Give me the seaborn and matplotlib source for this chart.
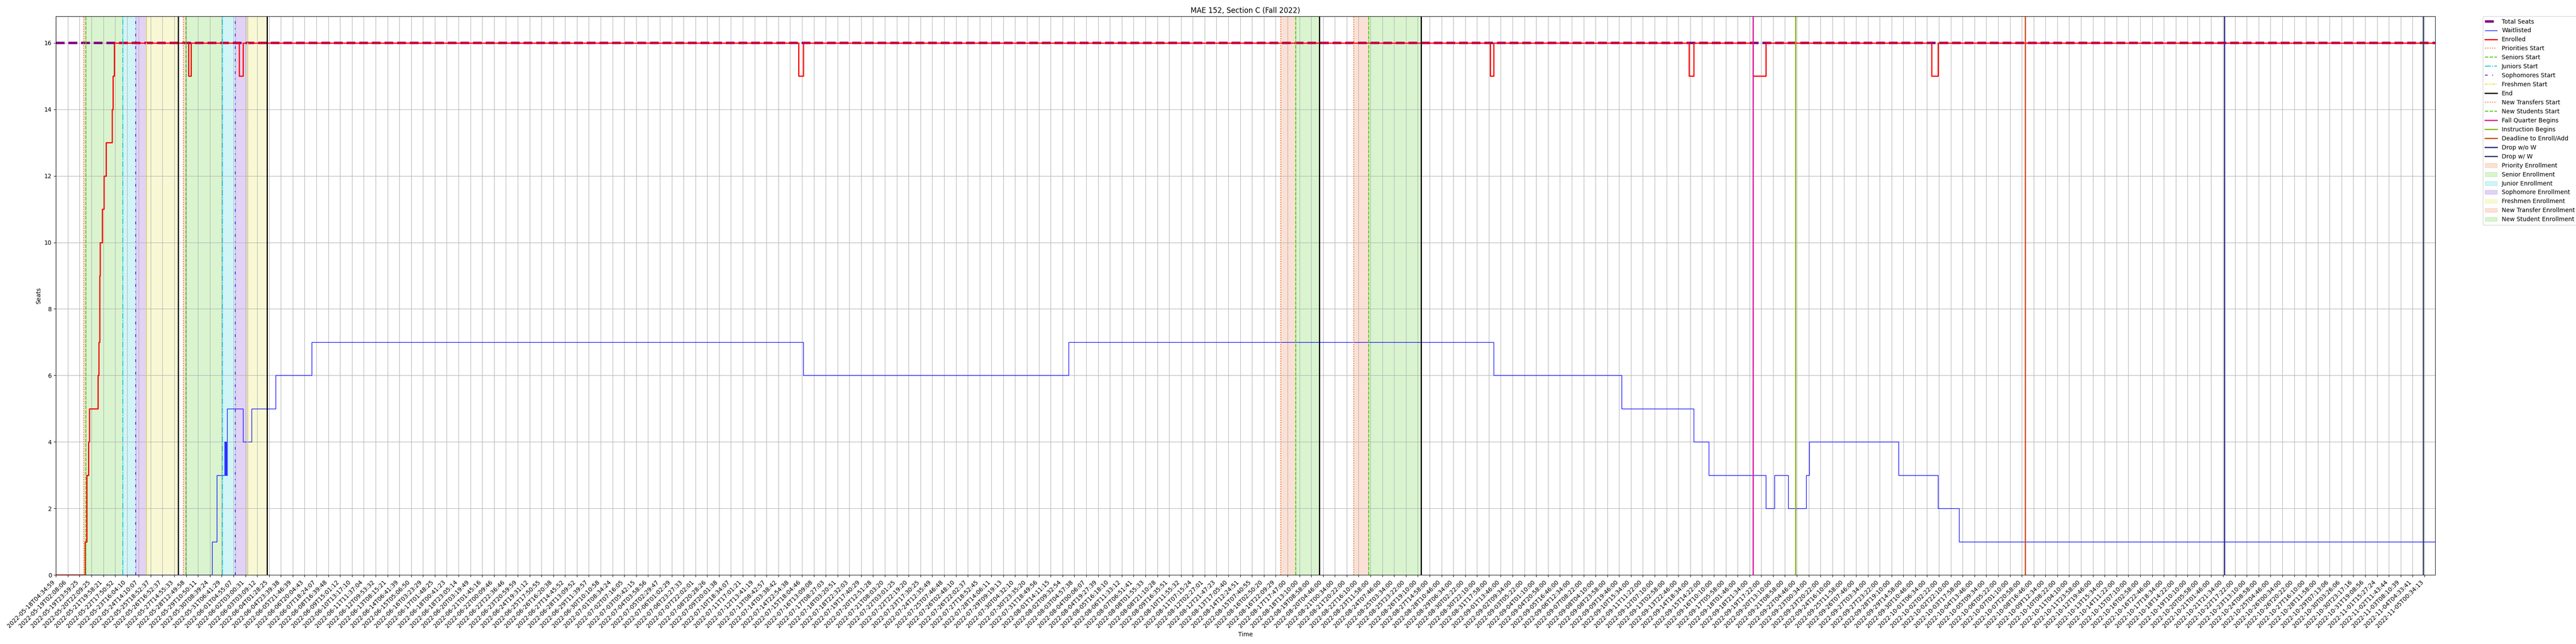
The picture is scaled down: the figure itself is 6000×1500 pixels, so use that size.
import matplotlib
matplotlib.use("Agg")
import matplotlib.pyplot as plt
import seaborn as sns

# x positions are in units of the sample index shown on the axis (one tick per unit)
tick_labels_a = [
    "2022-05-18T04:34:59", "2022-05-19T02:08:06", "2022-05-19T23:59:25", "2022-05-20T22:09:25", "2022-05-21T19:58:21",
    "2022-05-22T17:50:52", "2022-05-23T16:04:10", "2022-05-24T14:10:07", "2022-05-25T18:52:37", "2022-05-26T16:52:37",
    "2022-05-27T14:55:33", "2022-05-28T12:49:58", "2022-05-29T10:50:11", "2022-05-30T08:39:24", "2022-05-31T06:41:29",
    "2022-06-01T04:55:07", "2022-06-02T03:00:31", "2022-06-03T03:09:12", "2022-06-04T01:28:25", "2022-06-04T23:39:38",
    "2022-06-05T21:46:39", "2022-06-06T20:04:43", "2022-06-07T18:24:07", "2022-06-08T16:39:48", "2022-06-09T15:01:12",
    "2022-06-10T13:17:10", "2022-06-11T11:37:04", "2022-06-12T09:53:32", "2022-06-13T08:15:21", "2022-06-14T06:41:39",
    "2022-06-15T05:06:50", "2022-06-16T03:23:29", "2022-06-17T01:48:25", "2022-06-18T00:41:23", "2022-06-18T23:05:14",
    "2022-06-20T03:19:49", "2022-06-21T01:45:16", "2022-06-22T00:09:46", "2022-06-22T22:36:46", "2022-06-23T20:59:59",
    "2022-06-24T19:31:12", "2022-06-25T17:50:55", "2022-06-26T16:20:38", "2022-06-27T14:45:52", "2022-06-28T13:09:52",
    "2022-06-29T11:39:57", "2022-06-30T10:10:58", "2022-07-01T08:34:24", "2022-07-02T07:16:05", "2022-07-03T05:42:15",
    "2022-07-04T03:58:56", "2022-07-05T02:29:47", "2022-07-06T01:02:29", "2022-07-06T23:27:33", "2022-07-07T22:02:01",
    "2022-07-08T20:28:26", "2022-07-09T20:01:38", "2022-07-10T18:34:07", "2022-07-11T17:01:21", "2022-07-12T13:41:19",
    "2022-07-13T08:42:57", "2022-07-14T03:38:42", "2022-07-14T22:54:38", "2022-07-15T18:04:46", "2022-07-16T13:09:08",
    "2022-07-17T08:27:03", "2022-07-18T03:20:51", "2022-07-18T22:32:03", "2022-07-19T17:40:29", "2022-07-20T12:51:28",
    "2022-07-21T08:03:20", "2022-07-22T03:01:25", "2022-07-22T22:19:20", "2022-07-23T17:30:25", "2022-07-24T12:35:49",
    "2022-07-25T07:46:48", "2022-07-26T02:48:10", "2022-07-26T22:02:37", "2022-07-27T18:52:45", "2022-07-28T14:06:11",
    "2022-07-29T09:19:13", "2022-07-30T04:32:10", "2022-07-30T23:35:20", "2022-07-31T18:49:56", "2022-08-01T14:11:15",
    "2022-08-02T09:32:54", "2022-08-03T04:57:38", "2022-08-04T00:06:07", "2022-08-04T19:27:39", "2022-08-05T16:18:10",
    "2022-08-06T11:33:12", "2022-08-07T06:51:41", "2022-08-08T01:55:33", "2022-08-08T21:10:28", "2022-08-09T16:35:51",
    "2022-08-10T11:55:32", "2022-08-11T07:15:24", "2022-08-12T02:27:01", "2022-08-12T21:47:23", "2022-08-13T17:05:40",
    "2022-08-14T12:24:51", "2022-08-15T07:40:55", "2022-08-16T02:50:20", "2022-08-16T22:09:29", "2022-08-17T17:47:00",
]
# middle stretch could not be read at full size; these are estimates
tick_labels_b = [
    "2022-08-18T13:10:00", "2022-08-19T08:58:00", "2022-08-20T04:46:00", "2022-08-21T00:34:00", "2022-08-21T20:22:00",
    "2022-08-22T16:10:00", "2022-08-23T11:58:00", "2022-08-24T07:46:00", "2022-08-25T03:34:00", "2022-08-25T23:22:00",
    "2022-08-26T19:10:00", "2022-08-27T14:58:00", "2022-08-28T10:46:00", "2022-08-29T06:34:00", "2022-08-30T02:22:00",
    "2022-08-30T22:10:00", "2022-08-31T17:58:00", "2022-09-01T13:46:00", "2022-09-02T09:34:00", "2022-09-03T05:22:00",
    "2022-09-04T01:10:00", "2022-09-04T20:58:00", "2022-09-05T16:46:00", "2022-09-06T12:34:00", "2022-09-07T08:22:00",
    "2022-09-08T04:10:00", "2022-09-08T23:58:00", "2022-09-09T19:46:00", "2022-09-10T15:34:00", "2022-09-11T11:22:00",
    "2022-09-12T07:10:00", "2022-09-13T02:58:00", "2022-09-13T22:46:00", "2022-09-14T18:34:00", "2022-09-15T14:22:00",
    "2022-09-16T10:10:00", "2022-09-17T05:58:00", "2022-09-18T01:46:00", "2022-09-18T21:34:00", "2022-09-19T17:22:00",
    "2022-09-20T13:10:00", "2022-09-21T08:58:00", "2022-09-22T04:46:00", "2022-09-23T00:34:00", "2022-09-23T20:22:00",
    "2022-09-24T16:10:00", "2022-09-25T11:58:00", "2022-09-26T07:46:00", "2022-09-27T03:34:00", "2022-09-27T23:22:00",
    "2022-09-28T19:10:00", "2022-09-29T14:58:00", "2022-09-30T10:46:00", "2022-10-01T06:34:00", "2022-10-02T02:22:00",
    "2022-10-02T22:10:00", "2022-10-03T17:58:00", "2022-10-04T13:46:00", "2022-10-05T09:34:00", "2022-10-06T05:22:00",
    "2022-10-07T01:10:00", "2022-10-07T20:58:00", "2022-10-08T16:46:00", "2022-10-09T12:34:00", "2022-10-10T08:22:00",
    "2022-10-11T04:10:00", "2022-10-11T23:58:00", "2022-10-12T19:46:00", "2022-10-13T15:34:00", "2022-10-14T11:22:00",
    "2022-10-15T07:10:00", "2022-10-16T02:58:00", "2022-10-16T22:46:00", "2022-10-17T18:34:00", "2022-10-18T14:22:00",
    "2022-10-19T10:10:00", "2022-10-20T05:58:00", "2022-10-21T01:46:00", "2022-10-21T21:34:00", "2022-10-22T17:22:00",
    "2022-10-23T13:10:00", "2022-10-24T08:58:00", "2022-10-25T04:46:00", "2022-10-26T00:34:00", "2022-10-26T20:22:00",
    "2022-10-27T16:10:00", "2022-10-28T11:58:00",
]
tick_labels_c = [
    "2022-10-29T07:13:06", "2022-10-30T03:26:06", "2022-10-30T23:17:16", "2022-10-31T19:08:56", "2022-11-01T15:27:24",
    "2022-11-02T11:43:44", "2022-11-03T08:10:39", "2022-11-04T04:33:41", "2022-11-05T00:34:13",
]
tick_labels = tick_labels_a + tick_labels_b + tick_labels_c

total_seats = 16
x_end = 200.9

waitlist_x = [0, 13.2, 13.57, 14.24, 14.3, 14.36, 14.4, 14.45, 15.8, 16.53, 18.54, 21.6, 63.1, 85.5,
              121.4, 132.2, 138.3, 139.56, 144.4, 145.1, 146.26, 147.78, 148.05, 155.58, 158.93, 160.7, x_end]
waitlist_y = [0, 1, 3, 4, 3, 4, 3, 5, 4, 5, 6, 7, 6, 7,
              6, 5, 4, 3, 2, 3, 2, 3, 4, 3, 2, 1, 1]

enrolled_x = [0, 2.44, 2.62, 2.74, 2.83, 3.53, 3.6, 3.68, 3.74, 3.89, 4.05, 4.22, 4.73, 4.83, 4.94,
              11.2, 11.42, 15.49, 15.8, 62.7, 63.1, 121.1, 121.4, 137.9, 138.3, 143.3, 144.4, 158.4, 158.93, x_end]
enrolled_y = [0, 1, 3, 4, 5, 6, 7, 9, 10, 11, 12, 13, 14, 15, 16,
              15, 16, 15, 16, 15, 16, 15, 16, 15, 16, 15, 16, 15, 16, 16]

priority_starts = [2.36, 10.75]
senior_starts = [2.54, 10.97]
junior_starts = [5.64, 14.05]
sophomore_starts = [6.73, 15.14]
freshmen_starts = [7.63, 16.2]
enroll_ends = [10.31, 17.83]
new_transfer_starts = [103.44, 109.6]
new_student_starts = [104.68, 110.84]
new_student_ends = [106.67, 115.29]
fall_quarter_begins = 143.3
instruction_begins = 146.9
deadline_enroll = 166.3
drop_no_w = 183.1
drop_w = 199.9

c_priority = "#ee6a2f"
c_senior = "#44cc11"
c_junior = "#1ac8db"
c_soph = "#6a1fd6"
c_fresh = "#e0e030"

fig, ax = plt.subplots(figsize=(60, 15), dpi=100)
fig.subplots_adjust(left=0.0217, right=0.9453, top=0.9747, bottom=0.1073)

ax.axhline(total_seats, color="purple", linestyle="--", linewidth=4, label="Total Seats")
sns.lineplot(x=waitlist_x, y=waitlist_y, drawstyle="steps-post", estimator=None, sort=False,
             color="blue", linewidth=1, label="Waitlisted", ax=ax)
sns.lineplot(x=enrolled_x, y=enrolled_y, drawstyle="steps-post", estimator=None, sort=False,
             color="red", linewidth=2, label="Enrolled", ax=ax)

# class-level enrollment windows
first = True
for p, s, j, so, f, e in zip(priority_starts, senior_starts, junior_starts, sophomore_starts, freshmen_starts, enroll_ends):
    ax.axvline(p, color=c_priority, linestyle=":", linewidth=1.5, label="Priorities Start" if first else None)
    ax.axvline(s, color=c_senior, linestyle="--", linewidth=1.5, label="Seniors Start" if first else None)
    ax.axvline(j, color=c_junior, linestyle="-.", linewidth=1.5, label="Juniors Start" if first else None)
    ax.axvline(so, color=c_soph, linestyle=(0, (3, 5, 1, 5)), linewidth=1.5, label="Sophomores Start" if first else None)
    ax.axvline(f, color=c_fresh, linestyle=(0, (3, 1, 1, 1, 1, 1)), linewidth=1.5, label="Freshmen Start" if first else None)
    ax.axvline(e, color="black", linewidth=2, label="End" if first else None)
    ax.axvspan(p, s, color=c_priority, alpha=0.2, label="Priority Enrollment" if first else None)
    ax.axvspan(s, j, color=c_senior, alpha=0.2, label="Senior Enrollment" if first else None)
    ax.axvspan(j, so, color=c_junior, alpha=0.2, label="Junior Enrollment" if first else None)
    ax.axvspan(so, f, color=c_soph, alpha=0.2, label="Sophomore Enrollment" if first else None)
    ax.axvspan(f, e, color=c_fresh, alpha=0.2, label="Freshmen Enrollment" if first else None)
    first = False

# new student windows
first = True
for t, s, e in zip(new_transfer_starts, new_student_starts, new_student_ends):
    ax.axvline(t, color=c_priority, linestyle=":", linewidth=1.5, label="New Transfers Start" if first else None)
    ax.axvline(s, color=c_senior, linestyle="--", linewidth=1.5, label="New Students Start" if first else None)
    ax.axvline(e, color="black", linewidth=2)
    ax.axvspan(t, s, color=c_priority, alpha=0.2, label="New Transfer Enrollment" if first else None)
    ax.axvspan(s, e, color=c_senior, alpha=0.2, label="New Student Enrollment" if first else None)
    first = False

ax.axvline(fall_quarter_begins, color="#e0169e", linewidth=2, label="Fall Quarter Begins")
ax.axvline(instruction_begins, color="#8db51a", linewidth=2, label="Instruction Begins")
ax.axvline(deadline_enroll, color="#d2491c", linewidth=2, label="Deadline to Enroll/Add")
ax.axvline(drop_no_w, color="#2f2a8a", linewidth=2, label="Drop w/o W")
ax.axvline(drop_w, color="#2e3a5c", linewidth=2, label="Drop w/ W")

ax.set_xlim(0, x_end)
ax.set_ylim(0, 16.8)
ax.set_yticks(range(0, 17, 2))
ax.set_xticks(range(len(tick_labels)))
ax.set_xticklabels(tick_labels, rotation=45, ha="right")
ax.grid(True)
ax.set_xlabel("Time")
ax.set_ylabel("Seats")
ax.set_title("MAE 152, Section C (Fall 2022)")

order = ["Total Seats", "Waitlisted", "Enrolled", "Priorities Start", "Seniors Start", "Juniors Start",
         "Sophomores Start", "Freshmen Start", "End", "New Transfers Start", "New Students Start",
         "Fall Quarter Begins", "Instruction Begins", "Deadline to Enroll/Add", "Drop w/o W", "Drop w/ W",
         "Priority Enrollment", "Senior Enrollment", "Junior Enrollment", "Sophomore Enrollment",
         "Freshmen Enrollment", "New Transfer Enrollment", "New Student Enrollment"]
handles, labels = ax.get_legend_handles_labels()
lookup = dict(zip(labels, handles))
ax.legend([lookup[k] for k in order], order, loc="upper left", bbox_to_anchor=(1.02, 1), borderaxespad=0)

fig.savefig("out.png", dpi=100)
